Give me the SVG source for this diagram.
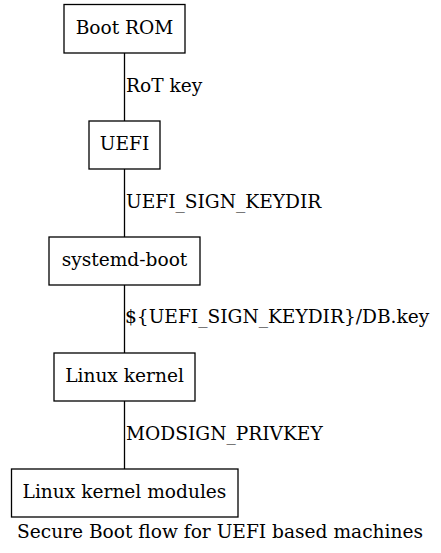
<svg xmlns="http://www.w3.org/2000/svg" width="441" height="553" viewBox="0 0 441 553">
<style>
text{font-family:"DejaVu Serif","Liberation Serif",serif;font-size:18.6px;fill:#000}
.n{text-anchor:middle}
rect{fill:#fff;stroke:#000;stroke-width:1.3}
line{stroke:#000;stroke-width:1.3}
</style>
<rect x="0" y="0" width="441" height="553" style="stroke:none"/>
<g id="edges">
<line x1="124.5" y1="53" x2="124.5" y2="121"/>
<text x="126" y="92">RoT key</text>
<line x1="124.5" y1="169" x2="124.5" y2="237"/>
<text x="126" y="208">UEFI_SIGN_KEYDIR</text>
<line x1="124.5" y1="285" x2="124.5" y2="353"/>
<text x="125" y="323">${UEFI_SIGN_KEYDIR}/DB.key</text>
<line x1="124.5" y1="401" x2="124.5" y2="469"/>
<text x="126" y="440">MODSIGN_PRIVKEY</text>
</g>
<g id="bootrom"><rect x="64" y="4.5" width="121" height="48.5"/><text class="n" x="124.5" y="34">Boot ROM</text></g>
<g id="uefi"><rect x="89" y="121" width="71" height="48"/><text class="n" x="124.5" y="150">UEFI</text></g>
<g id="systemdboot"><rect x="49" y="237" width="151" height="48"/><text class="n" x="124.5" y="266">systemd-boot</text></g>
<g id="kernel"><rect x="54" y="353" width="141" height="48"/><text class="n" x="124.5" y="382">Linux kernel</text></g>
<g id="modules"><rect x="11.5" y="469" width="226.5" height="48"/><text class="n" x="124.5" y="498">Linux kernel modules</text></g>
<text class="n" x="220" y="538">Secure Boot flow for UEFI based machines</text>
</svg>
